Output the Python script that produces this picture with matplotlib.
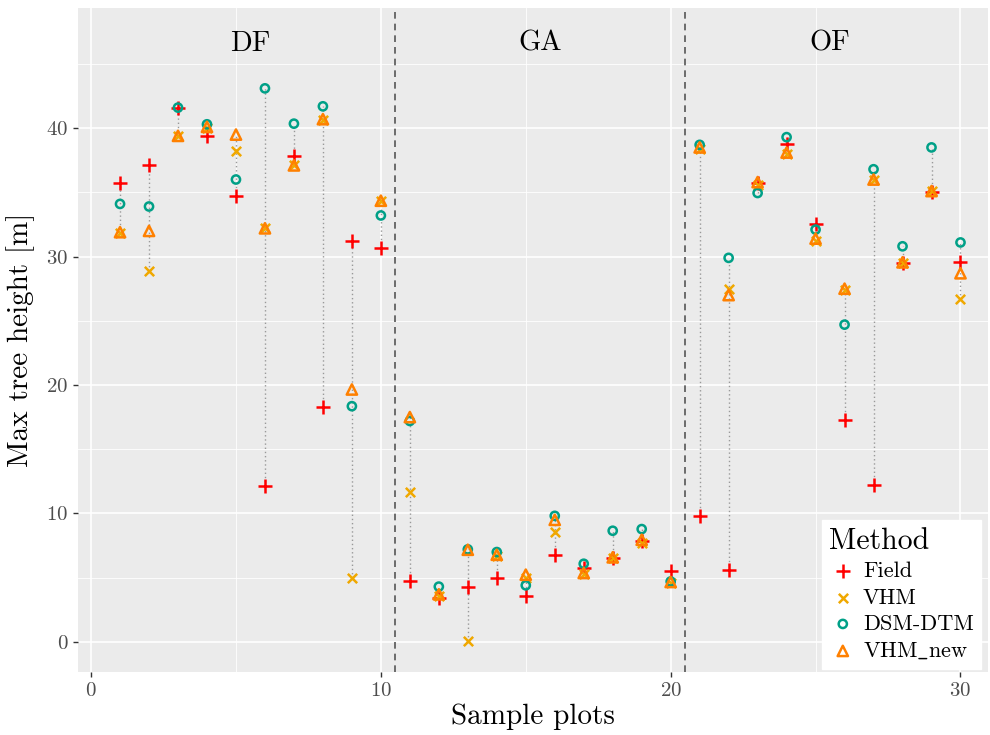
import numpy as np
import matplotlib
matplotlib.use("Agg")
import matplotlib.pyplot as plt

plt.rcParams['font.family'] = ['cmr10', 'DejaVu Serif']
plt.rcParams['mathtext.fontset'] = 'cm'
plt.rcParams['axes.formatter.use_mathtext'] = True

plots = np.arange(1, 31)
field = [35.7, 37.15, 41.6, 39.4, 34.7, 12.15, 37.85, 18.3, 31.2, 30.7,
         4.7, 3.4, 4.3, 4.97, 3.55, 6.78, 5.75, 6.5, 7.87, 5.54,
         9.8, 5.6, 35.7, 38.8, 32.5, 17.25, 12.2, 29.5, 35.0, 29.55]
vhm = [31.8, 28.85, 39.4, 40.0, 38.2, 32.2, 37.1, 40.6, 4.97, 34.3,
       11.7, 3.6, 0.1, 6.7, 5.0, 8.54, 5.3, 6.55, 7.69, 4.6,
       38.4, 27.45, 35.6, 38.0, 31.2, 27.4, 36.0, 29.5, 35.1, 26.7]
dsm_dtm = [34.1, 33.9, 41.6, 40.3, 36.0, 43.1, 40.35, 41.7, 18.35, 33.2,
           17.2, 4.3, 7.2, 6.99, 4.4, 9.81, 6.08, 8.65, 8.78, 4.7,
           38.7, 29.9, 34.95, 39.3, 32.1, 24.7, 36.8, 30.8, 38.5, 31.1]
vhm_new = [31.9, 32.0, 39.4, 40.1, 39.5, 32.2, 37.1, 40.7, 19.65, 34.35,
           17.5, 3.7, 7.17, 6.78, 5.23, 9.5, 5.36, 6.58, 7.95, 4.66,
           38.5, 27.0, 35.8, 38.1, 31.4, 27.5, 36.0, 29.55, 35.1, 28.7]

groups = ["DF", "GA", "OF"]
group_x = [5.5, 15.5, 25.5]
group_y = 46.6
split_x = [10.5, 20.5]

fig = plt.figure(figsize=(9.9, 7.35), dpi=100)
ax = fig.add_axes([0.0788, 0.0857, 0.9192, 0.9033])
ax.set_facecolor('#EBEBEB')
for s in ax.spines.values():
    s.set_visible(False)

ax.set_xlim(-0.45, 30.95)
ax.set_ylim(-2.35, 49.35)
ax.set_xticks([0, 10, 20, 30])
ax.set_yticks([0, 10, 20, 30, 40])
ax.set_xticks([5, 15, 25], minor=True)
ax.set_yticks([5, 15, 25, 35, 45], minor=True)
ax.grid(which='major', color='white', linewidth=1.2)
ax.grid(which='minor', color='white', linewidth=0.6)
ax.set_axisbelow(True)
ax.tick_params(which='major', length=3.5, width=1, color='#333333',
               labelcolor='#4D4D4D', labelsize=15)
ax.tick_params(which='minor', length=0)

# range lines between methods
allv = np.array([field, vhm, dsm_dtm, vhm_new])
ax.vlines(plots, allv.min(axis=0), allv.max(axis=0), colors='#999999',
          linestyles=(0, (1, 2)), linewidth=1, zorder=1)

for xv in split_x:
    ax.axvline(xv, color='#555555', linestyle=(0, (4, 3)), linewidth=1.2, zorder=1)

ax.scatter(plots, field, marker='+', s=90, color='#FF0000', linewidths=1.8,
           label='Field', zorder=3)
ax.scatter(plots, vhm, marker='x', s=45, color='#F0A800', linewidths=1.8,
           label='VHM', zorder=3)
ax.scatter(plots, dsm_dtm, marker='o', s=35, facecolors='none',
           edgecolors='#00A087', linewidths=1.8, label='DSM-DTM', zorder=3)
ax.scatter(plots, vhm_new, marker='^', s=55, facecolors='none',
           edgecolors='#FF8000', linewidths=1.8, label=r'VHM$\_$new', zorder=3)

for g, gx in zip(groups, group_x):
    ax.text(gx, group_y, g, ha='center', va='center', fontsize=20.5)

ax.set_xlabel('Sample plots', fontsize=21, labelpad=3)
ax.set_ylabel('Max tree height [m]', fontsize=21, labelpad=8)

leg = ax.legend(title='Method', loc='lower right', bbox_to_anchor=(1.005, -0.012),
                frameon=True, facecolor='white', edgecolor='white', framealpha=1,
                fontsize=16, title_fontsize=21.5, handletextpad=0.3,
                borderpad=0.35, labelspacing=0.3, handlelength=1.2,
                alignment='left', fancybox=False)

fig.savefig('out.png', dpi=100)
